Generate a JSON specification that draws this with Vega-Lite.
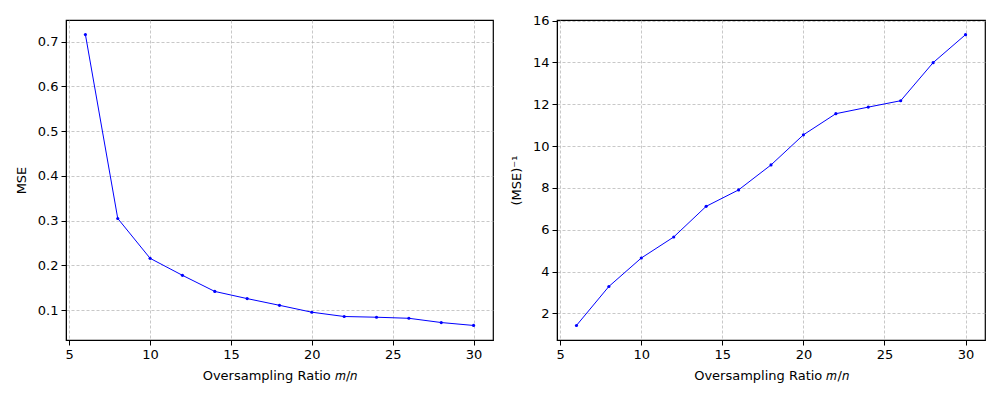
{
  "$schema": "https://vega.github.io/schema/vega-lite/v6.json",
  "background": "white",
  "padding": {"left": 14, "top": 14, "right": 5, "bottom": 5},
  "spacing": 15,
  "datasets": {
    "mse": [
      {"ratio": 6, "mse": 0.716, "inv": 1.425},
      {"ratio": 8, "mse": 0.305, "inv": 3.29},
      {"ratio": 10, "mse": 0.216, "inv": 4.65},
      {"ratio": 12, "mse": 0.178, "inv": 5.655},
      {"ratio": 14, "mse": 0.142, "inv": 7.12},
      {"ratio": 16, "mse": 0.126, "inv": 7.906},
      {"ratio": 18, "mse": 0.111, "inv": 9.1},
      {"ratio": 20, "mse": 0.0956, "inv": 10.54},
      {"ratio": 22, "mse": 0.086, "inv": 11.55},
      {"ratio": 24, "mse": 0.0844, "inv": 11.865},
      {"ratio": 26, "mse": 0.082, "inv": 12.17},
      {"ratio": 28, "mse": 0.0725, "inv": 13.99},
      {"ratio": 30, "mse": 0.066, "inv": 15.33}
    ]
  },
  "hconcat": [
    {
      "width": 427,
      "height": 320,
      "data": {"name": "mse"},
      "mark": {"type": "line", "color": "#0000ff", "strokeWidth": 1, "point": {"filled": true, "color": "#0000ff", "size": 10}},
      "encoding": {
        "x": {"field": "ratio", "type": "quantitative", "scale": {"domain": [4.8, 31.2], "nice": false, "zero": false},
              "axis": {"values": [5, 10, 15, 20, 25, 30], "title": "Oversampling Ratio 𝑚/𝑛"}},
        "y": {"field": "mse", "type": "quantitative", "scale": {"domain": [0.0335, 0.7485], "nice": false, "zero": false},
              "axis": {"values": [0.1, 0.2, 0.3, 0.4, 0.5, 0.6, 0.7], "format": ".1f", "title": "MSE"}}
      }
    },
    {
      "width": 428,
      "height": 320,
      "data": {"name": "mse"},
      "mark": {"type": "line", "color": "#0000ff", "strokeWidth": 1, "point": {"filled": true, "color": "#0000ff", "size": 10}},
      "encoding": {
        "x": {"field": "ratio", "type": "quantitative", "scale": {"domain": [4.8, 31.2], "nice": false, "zero": false},
              "axis": {"values": [5, 10, 15, 20, 25, 30], "title": "Oversampling Ratio 𝑚/𝑛"}},
        "y": {"field": "inv", "type": "quantitative", "scale": {"domain": [0.73, 16.03], "nice": false, "zero": false},
              "axis": {"values": [2, 4, 6, 8, 10, 12, 14, 16], "format": "d", "title": "(MSE)⁻¹"}}
      }
    }
  ],
  "config": {
    "font": "DejaVu Sans",
    "view": {"stroke": "black", "strokeWidth": 1.2},
    "axis": {
      "labelFont": "DejaVu Sans",
      "titleFont": "DejaVu Sans",
      "labelFontSize": 13,
      "titleFontSize": 13,
      "titleFontWeight": "normal",
      "labelColor": "black",
      "titleColor": "black",
      "domainColor": "black",
      "tickColor": "black",
      "tickSize": 5,
      "labelPadding": 3,
      "grid": true,
      "gridColor": "#b0b0b0",
      "gridWidth": 0.7,
      "gridDash": [3, 2],
      "labelFlush": false,
      "labelOverlap": false
    },
    "axisX": {"titlePadding": 8},
    "axisY": {"titlePadding": 9}
  }
}
